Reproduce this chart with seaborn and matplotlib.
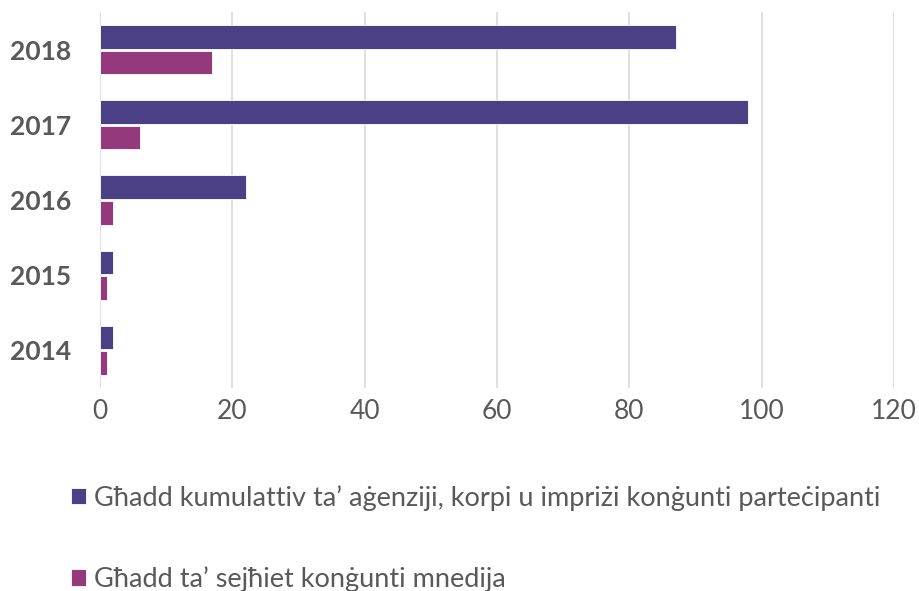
import pandas as pd
import matplotlib.pyplot as plt
import seaborn as sns

# dati
snin = ['2018', '2017', '2016', '2015', '2014']
agenziji = [87, 98, 22, 2, 2]
sejhiet = [17, 6, 2, 1, 1]
serje = ["Għadd kumulattiv ta’ aġenziji, korpi u impriżi konġunti parteċipanti",
         "Għadd ta’ sejħiet konġunti mnedija"]
kuluri = ['#4B3F86', '#943A7C']
xticks = [0, 20, 40, 60, 80, 100, 120]

df = pd.DataFrame({
    'Sena': snin * 2,
    'Valur': agenziji + sejhiet,
    'Serje': [serje[0]] * len(snin) + [serje[1]] * len(snin),
})

sns.set_style('white')
plt.rcParams['font.family'] = ['Lato', 'DejaVu Sans']

fig = plt.figure(figsize=(9.2, 5.91), dpi=100)
ax = fig.add_axes([0.1087, 0.3435, 0.863, 0.6362])

sns.barplot(data=df, x='Valur', y='Sena', hue='Serje', order=snin, hue_order=serje,
            palette=kuluri, orient='h', width=0.68, gap=0.08, ax=ax,
            edgecolor='white', linewidth=0.6, saturation=1, zorder=3)

ax.set_xlim(0, 120)
ax.set_xticks(xticks)
ax.grid(axis='x', color='#D9D9D9', linewidth=1.2, zorder=0)
ax.grid(axis='y', visible=False)
sns.despine(ax=ax, left=True, bottom=True)
ax.set_xlabel('')
ax.set_ylabel('')
ax.tick_params(axis='x', length=0, pad=8, labelsize=19, labelcolor='#595959')
ax.tick_params(axis='y', length=0, pad=21, labelsize=19, labelcolor='#595959')
for t in ax.get_yticklabels():
    t.set_fontweight('bold')

# il-leġenda taħt il-grafika, kif fl-oriġinal (it-tieni entrata maqtugħa)
handles, labels = ax.get_legend_handles_labels()
ax.get_legend().remove()
fig.legend(handles, labels, loc='upper left', bbox_to_anchor=(0.065, 0.198),
           frameon=False, fontsize=19.5, labelcolor='#595959',
           handlelength=0.55, handleheight=0.55, handletextpad=0.3,
           labelspacing=2.05, borderaxespad=0)

fig.savefig('out.png', dpi=100)
